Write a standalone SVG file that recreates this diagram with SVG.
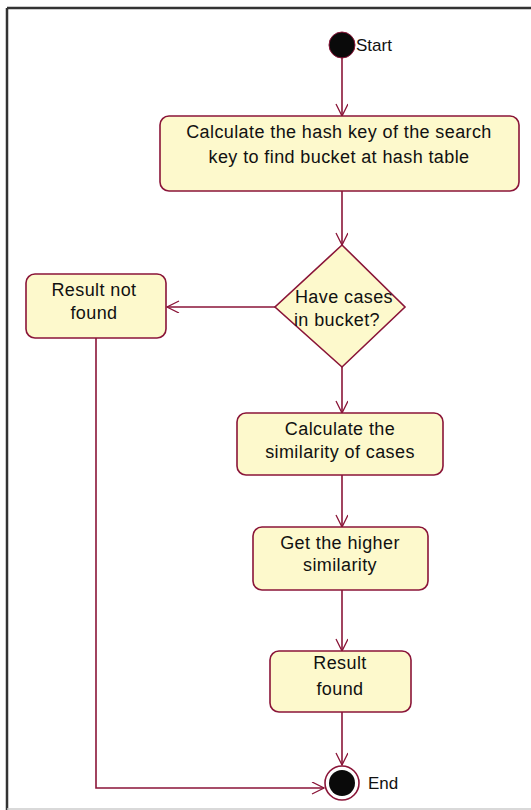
<svg xmlns="http://www.w3.org/2000/svg" width="531" height="810" viewBox="0 0 531 810">
<defs>
<marker id="arr" markerUnits="userSpaceOnUse" markerWidth="16" markerHeight="14" refX="13" refY="6" orient="auto">
<path d="M1,0 L13,6 L1,12" fill="none" stroke="#8a1538" stroke-width="1.3"/>
</marker>
<style>
.box{fill:#fdf9cc;stroke:#8a1538;stroke-width:1.6}
.t{font-family:"Liberation Sans",Arial,sans-serif;font-size:18px;fill:#111;text-anchor:middle;letter-spacing:0.4px}
.lbl{font-family:"Liberation Sans",Arial,sans-serif;font-size:17px;fill:#111}
.c{fill:none;stroke:#8a1538;stroke-width:1.6;marker-end:url(#arr)}
</style>
</defs>
<rect width="531" height="810" fill="#fff"/>
<g id="frame">
<line x1="7" y1="8" x2="531" y2="8" stroke="#333" stroke-width="2.5"/>
<line x1="7" y1="8" x2="7" y2="810" stroke="#333" stroke-width="2.5"/>
<line x1="7" y1="809" x2="531" y2="809" stroke="#ccc" stroke-width="1.5"/>
</g>
<g id="connectors">
<path class="c" d="M342,58 L342,116"/>
<path class="c" d="M342,191 L342,245"/>
<path class="c" d="M275,307 L167,307"/>
<path class="c" d="M342,367 L342,413"/>
<path class="c" d="M342,475 L342,527"/>
<path class="c" d="M342,590 L342,651"/>
<path class="c" d="M342,712 L342,765"/>
<path class="c" d="M96,338 L96,788 L324,788"/>
</g>
<g id="start">
<circle cx="342" cy="45" r="13" fill="#0a0a0a" stroke="#8a1538" stroke-width="1"/>
<text class="lbl" x="356" y="51">Start</text>
</g>
<g id="calcHash">
<rect class="box" x="160" y="116" width="359" height="75" rx="9"/>
<text class="t" x="339" y="138">Calculate the hash key  of the search</text>
<text class="t" x="339" y="163">key to find bucket at hash table</text>
</g>
<g id="decision">
<polygon class="box" points="342,245 405,307 342,367 275,307"/>
<text class="t" x="344" y="303">Have cases</text>
<text class="t" x="337" y="326">in bucket?</text>
</g>
<g id="notFound">
<rect class="box" x="26" y="274" width="140" height="64" rx="9"/>
<text class="t" x="94" y="296">Result not</text>
<text class="t" x="94" y="319">found</text>
</g>
<g id="calcSim">
<rect class="box" x="237" y="413" width="206" height="62" rx="9"/>
<text class="t" x="340" y="435">Calculate the</text>
<text class="t" x="340" y="458">similarity  of cases</text>
</g>
<g id="higher">
<rect class="box" x="253" y="527" width="175" height="63" rx="9"/>
<text class="t" x="340" y="549">Get the higher</text>
<text class="t" x="340" y="571">similarity</text>
</g>
<g id="found">
<rect class="box" x="270" y="651" width="141" height="61" rx="9"/>
<text class="t" x="340" y="669">Result</text>
<text class="t" x="340" y="695">found</text>
</g>
<g id="end">
<circle cx="342" cy="783" r="17" fill="#fff" stroke="#8a1538" stroke-width="1.6"/>
<circle cx="342" cy="783" r="13" fill="#0a0a0a"/>
<text class="lbl" x="368" y="789">End</text>
</g>
</svg>
